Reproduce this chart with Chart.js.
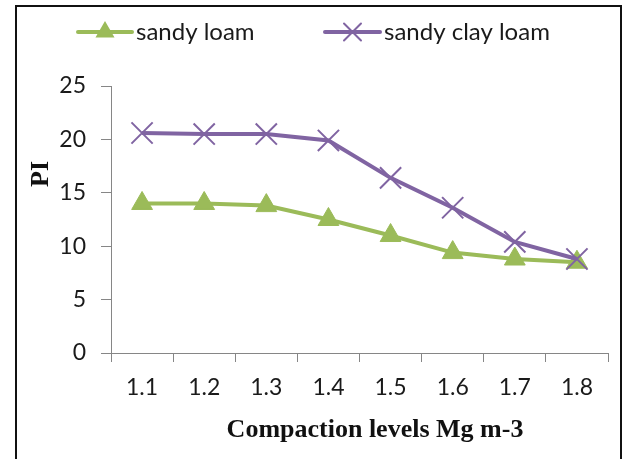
<!DOCTYPE html>
<html>
<head>
<meta charset="utf-8">
<script src="https://cdn.jsdelivr.net/npm/chart.js@4/dist/chart.umd.min.js"></script>
<style>
  html, body { margin: 0; padding: 0; background: #fff; }
  #wrap { position: relative; width: 625px; height: 459px; }
</style>
</head>
<body>
<div id="wrap"><canvas id="chart" width="625" height="459"></canvas></div>
<script>
// Compaction levels (Mg m-3) and plasticity index per soil texture
const compactionLevels = ['1.1', '1.2', '1.3', '1.4', '1.5', '1.6', '1.7', '1.8'];
const sandyLoam = [14.0, 14.0, 13.8, 12.5, 11.0, 9.4, 8.8, 8.5];
const sandyClayLoam = [20.6, 20.5, 20.5, 19.9, 16.4, 13.6, 10.4, 8.8];
const seriesNames = ['sandy loam', 'sandy clay loam'];
const xTitle = 'Compaction levels Mg m-3';
const yTitle = 'PI';

const GREEN = '#9BBB59';
const PURPLE = '#8064A2';
const AXIS = '#868686';
const SANS = 'Lato, "Open Sans", sans-serif';
const SERIF = '"Liberation Serif", "Times New Roman", serif';
const TICK_FONT = { family: SANS, size: 23 };

// Frame around the figure, axis titles and a line-and-marker legend row
const framePlugin = {
  id: 'frameAndLegend',
  beforeDraw(chart) {
    const ctx = chart.ctx;
    ctx.save();
    ctx.fillStyle = '#fff';
    ctx.fillRect(0, 0, chart.width, chart.height);
    ctx.restore();
  },
  afterDraw(chart) {
    const ctx = chart.ctx;
    ctx.save();
    ctx.strokeStyle = '#111';
    ctx.lineWidth = 2;
    ctx.beginPath();
    ctx.moveTo(16, chart.height);
    ctx.lineTo(16, 6);
    ctx.lineTo(621, 6);
    ctx.lineTo(621, chart.height);
    ctx.stroke();

    // axis titles
    ctx.fillStyle = '#111';
    ctx.textAlign = 'center';
    ctx.textBaseline = 'middle';
    ctx.font = 'bold 26px ' + SERIF;
    ctx.fillText(xTitle, 375, 430);
    ctx.save();
    ctx.translate(41, 174);
    ctx.rotate(-Math.PI / 2);
    ctx.font = 'bold 26px ' + SERIF;
    ctx.fillText(yTitle, 0, 0);
    ctx.restore();

    const items = [
      { name: seriesNames[0], color: GREEN, style: 'triangle', r: 9, x0: 78, x1: 132, tx: 136 },
      { name: seriesNames[1], color: PURPLE, style: 'crossRot', r: 12, x0: 325, x1: 380, tx: 384 }
    ];
    const y = 32;
    items.forEach(it => {
      ctx.strokeStyle = it.color;
      ctx.lineWidth = 4;
      ctx.lineCap = 'round';
      ctx.beginPath();
      ctx.moveTo(it.x0, y);
      ctx.lineTo(it.x1, y);
      ctx.stroke();
      ctx.fillStyle = it.color;
      ctx.lineWidth = 2;
      Chart.helpers.drawPoint(ctx, { pointStyle: it.style, radius: it.r, borderWidth: 2 }, (it.x0 + it.x1) / 2, y);
      ctx.fillStyle = '#1a1a1a';
      ctx.font = '24px ' + SANS;
      ctx.textBaseline = 'middle';
      ctx.textAlign = 'left';
      ctx.fillText(it.name, it.tx, y);
    });
    ctx.restore();
  }
};

new Chart(document.getElementById('chart'), {
  type: 'line',
  data: {
    labels: compactionLevels,
    datasets: [
      {
        label: seriesNames[0],
        data: sandyLoam,
        borderColor: GREEN,
        backgroundColor: GREEN,
        borderWidth: 4,
        pointStyle: 'triangle',
        pointRadius: 12,
        pointBorderWidth: 1,
        pointBackgroundColor: GREEN,
        pointBorderColor: GREEN,
        tension: 0,
        order: 1
      },
      {
        label: seriesNames[1],
        data: sandyClayLoam,
        borderColor: PURPLE,
        backgroundColor: PURPLE,
        borderWidth: 4,
        pointStyle: 'crossRot',
        pointRadius: 15,
        pointBorderWidth: 2,
        pointBorderColor: PURPLE,
        tension: 0,
        order: 0
      }
    ]
  },
  options: {
    responsive: false,
    animation: false,
    devicePixelRatio: 1,
    layout: { padding: { left: 16, top: 86, right: 14, bottom: 0 } },
    plugins: { legend: { display: false }, tooltip: { enabled: false } },
    scales: {
      x: {
        offset: true,
        grid: { display: true, offset: true, drawOnChartArea: false, drawTicks: true, tickLength: 9, color: AXIS, lineWidth: 1 },
        border: { display: true, color: AXIS, width: 1 },
        ticks: { color: '#1a1a1a', font: TICK_FONT, padding: 12, maxRotation: 0 },
        title: { display: false },
        afterFit(scale) { scale.height = 106; }
      },
      y: {
        min: 0,
        max: 25,
        ticks: { stepSize: 5, color: '#1a1a1a', font: TICK_FONT, padding: 15 },
        grid: { display: true, drawOnChartArea: false, drawTicks: true, tickLength: 10, color: AXIS, lineWidth: 1 },
        border: { display: true, color: AXIS, width: 1 },
        title: { display: false },
        afterFit(scale) { scale.width = 95; }
      }
    }
  },
  plugins: [framePlugin]
});
</script>
</body>
</html>
